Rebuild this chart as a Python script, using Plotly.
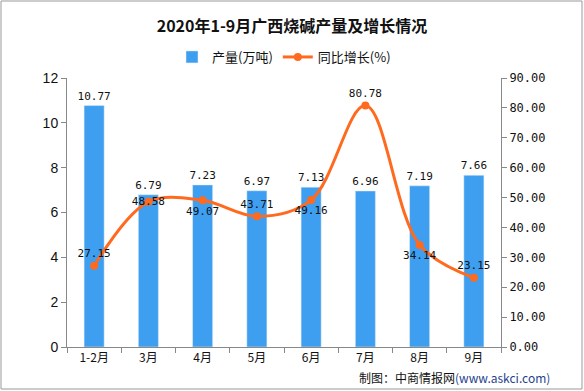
import plotly.graph_objects as go

categories = ["1-2月", "3月", "4月", "5月", "6月", "7月", "8月", "9月"]
output = [10.77, 6.79, 7.23, 6.97, 7.13, 6.96, 7.19, 7.66]
growth = [27.15, 48.58, 49.07, 43.71, 49.16, 80.78, 34.14, 23.15]
growth_pos = ["top center", "middle center", "bottom center", "top center",
              "bottom center", "top center", "bottom center", "top center"]

mono = "DejaVu Sans Mono"
cjk = "Noto Sans CJK SC"

fig = go.Figure()
fig.add_trace(go.Bar(
    x=categories, y=output, name="产量(万吨)",
    marker=dict(color="#3E9FF0"), width=0.37,
    text=[f"{v:.2f}" for v in output], textposition="outside",
    textfont=dict(family=mono, size=11, color="#111"), cliponaxis=False,
    constraintext="none",
))
fig.add_trace(go.Scatter(
    x=categories, y=growth, name="同比增长(%)", yaxis="y2",
    mode="lines+markers+text", line=dict(color="#FF6A1E", width=3, shape="spline", smoothing=1.0),
    marker=dict(color="#FF6A1E", size=8),
    text=[f"{v:.2f}" for v in growth], textposition=growth_pos,
    textfont=dict(family=mono, size=11, color="#111"), cliponaxis=False,
))

fig.update_layout(
    width=584, height=391,
    margin=dict(l=67, r=83, t=78, b=44),
    paper_bgcolor="white", plot_bgcolor="white",
    font=dict(family=cjk, color="#111"),
    title=dict(text="<b>2020年1-9月广西烧碱产量及增长情况</b>", x=0.5, xanchor="center",
               y=1 - 26/391, yanchor="middle", font=dict(family=cjk, size=16, color="#111")),
    legend=dict(orientation="h", x=0.5, xanchor="center", y=1 + 21/269, yanchor="middle",
                font=dict(family=cjk, size=13, color="#111"), itemwidth=30),
    showlegend=True, bargap=0.5,
    xaxis=dict(showline=True, linecolor="#888", ticks="outside", tickcolor="#888",
               ticklen=5, tickson="boundaries", tickfont=dict(family=cjk, size=12, color="#111"),
               showgrid=False),
    yaxis=dict(range=[0, 12], dtick=2, showline=True, linecolor="#888", ticks="outside",
               tickcolor="#888", ticklen=5, showgrid=False, zeroline=False,
               tickfont=dict(family="Liberation Sans", size=14, color="#111")),
    yaxis2=dict(range=[0, 90], dtick=10, overlaying="y", side="right", showline=True,
                linecolor="#888", ticks="outside", tickcolor="#888", ticklen=5,
                showgrid=False, zeroline=False, tickformat=".2f",
                tickfont=dict(family=mono, size=12, color="#111")),
    shapes=[dict(type="rect", xref="paper", yref="paper", x0=-66/434, x1=1 + 81/434,
                 y0=-42/269, y1=1 + 77/269, line=dict(color="#999", width=1))],
)
fig.add_annotation(xref="paper", yref="paper", x=1 + 51/434, y=-30/269, xanchor="right",
                   yanchor="middle", showarrow=False,
                   text="制图：中商情报网<span style='color:#1F3F8F'>(www.askci.com)</span>",
                   font=dict(family=cjk, size=12, color="#111"))
fig.write_html("out.html", config={"displayModeBar": False},
               post_script="document.body.style.margin='0';")
